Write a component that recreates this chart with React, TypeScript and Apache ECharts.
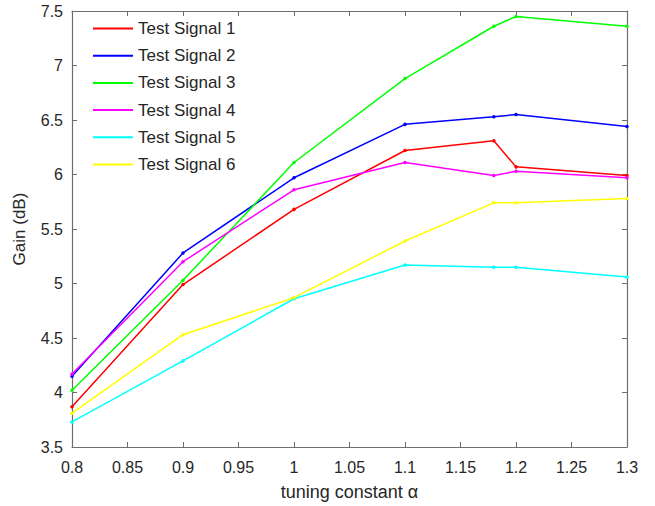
import React, { useEffect, useRef } from "react";
import * as echarts from "echarts";

const xValues = [0.8, 0.9, 1.0, 1.1, 1.18, 1.2, 1.3];
const seriesNames = ["Test Signal 1", "Test Signal 2", "Test Signal 3", "Test Signal 4", "Test Signal 5", "Test Signal 6"];
const signal1 = [3.87, 4.99, 5.68, 6.22, 6.31, 6.07, 5.99];
const signal2 = [4.15, 5.28, 5.97, 6.46, 6.53, 6.55, 6.44];
const signal3 = [4.02, 5.03, 6.11, 6.88, 7.36, 7.45, 7.36];
const signal4 = [4.17, 5.20, 5.86, 6.11, 5.99, 6.03, 5.97];
const signal5 = [3.73, 4.29, 4.86, 5.17, 5.15, 5.15, 5.06];
const signal6 = [3.81, 4.53, 4.87, 5.39, 5.74, 5.74, 5.78];
const colors = ["#ff0000", "#0000ff", "#00ff00", "#ff00ff", "#00ffff", "#ffff00"];

const allSignals = [signal1, signal2, signal3, signal4, signal5, signal6];

const FONT = "'Liberation Sans', Arial, sans-serif";
const AXIS_COLOR = "#6e6e6e";
const TEXT_COLOR = "#262626";

export default function App() {
  const ref = useRef<HTMLDivElement>(null);
  useEffect(() => {
    if (!ref.current) return;
    const chart = echarts.init(ref.current, null, { renderer: "svg" });
    const tickCommon = { show: true, inside: true, length: 5, lineStyle: { color: AXIS_COLOR, width: 1 } };
    const lineCommon = { show: true, lineStyle: { color: AXIS_COLOR, width: 1.2 } };
    chart.setOption({
      animation: false,
      backgroundColor: "#ffffff",
      color: colors,
      grid: { left: 72, top: 11, width: 555, height: 437, containLabel: false },
      legend: {
        orient: "vertical",
        left: 93,
        top: 20,
        padding: 0,
        itemWidth: 40,
        itemHeight: 2,
        itemGap: 10.2,
        icon: "rect",
        textStyle: { fontFamily: FONT, fontSize: 17, color: TEXT_COLOR, lineHeight: 17 },
        data: seriesNames,
      },
      xAxis: [
        {
          type: "value",
          min: 0.8,
          max: 1.3,
          interval: 0.05,
          name: "tuning constant α",
          nameLocation: "middle",
          nameGap: 36,
          nameTextStyle: { fontFamily: FONT, fontSize: 18, color: TEXT_COLOR },
          axisLine: lineCommon,
          axisTick: tickCommon,
          axisLabel: { fontFamily: FONT, fontSize: 16, color: TEXT_COLOR, margin: 12 },
          splitLine: { show: false },
        },
        {
          type: "value",
          position: "top",
          min: 0.8,
          max: 1.3,
          interval: 0.05,
          axisLine: lineCommon,
          axisTick: tickCommon,
          axisLabel: { show: false },
          splitLine: { show: false },
        },
      ],
      yAxis: [
        {
          type: "value",
          min: 3.5,
          max: 7.5,
          interval: 0.5,
          name: "Gain (dB)",
          nameLocation: "middle",
          nameGap: 44,
          nameTextStyle: { fontFamily: FONT, fontSize: 17, color: TEXT_COLOR },
          axisLine: lineCommon,
          axisTick: tickCommon,
          axisLabel: { fontFamily: FONT, fontSize: 16, color: TEXT_COLOR, margin: 9 },
          splitLine: { show: false },
        },
        {
          type: "value",
          position: "right",
          min: 3.5,
          max: 7.5,
          interval: 0.5,
          axisLine: lineCommon,
          axisTick: tickCommon,
          axisLabel: { show: false },
          splitLine: { show: false },
        },
      ],
      series: allSignals.map((vals, i) => ({
        name: seriesNames[i],
        type: "line",
        xAxisIndex: 0,
        yAxisIndex: 0,
        data: xValues.map((x, j) => [x, vals[j]]),
        symbol: "circle",
        symbolSize: 3.5,
        showSymbol: true,
        lineStyle: { width: 1.5, color: colors[i] },
        itemStyle: { color: colors[i] },
      })),
    });
    return () => chart.dispose();
  }, []);
  return <div ref={ref} style={{ width: 655, height: 506, position: "absolute", left: 0, top: 0 }} />;
}
